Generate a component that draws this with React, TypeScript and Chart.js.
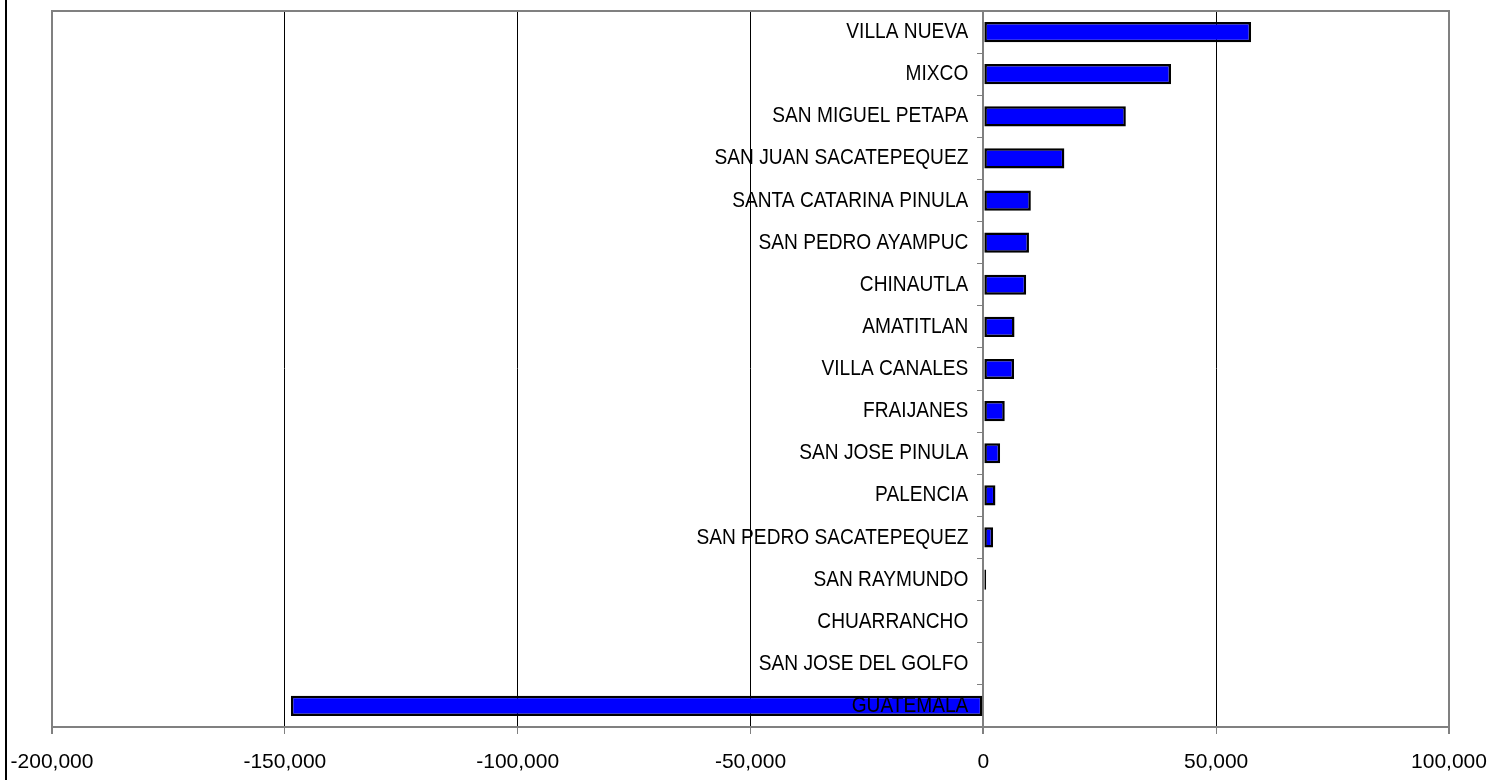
import React, { useEffect, useRef } from "react";
import { Chart, registerables } from "chart.js";

Chart.register(...registerables);

const municipios: string[] = [
  "VILLA NUEVA",
  "MIXCO",
  "SAN MIGUEL PETAPA",
  "SAN JUAN SACATEPEQUEZ",
  "SANTA CATARINA PINULA",
  "SAN PEDRO AYAMPUC",
  "CHINAUTLA",
  "AMATITLAN",
  "VILLA CANALES",
  "FRAIJANES",
  "SAN JOSE PINULA",
  "PALENCIA",
  "SAN PEDRO SACATEPEQUEZ",
  "SAN RAYMUNDO",
  "CHUARRANCHO",
  "SAN JOSE DEL GOLFO",
  "GUATEMALA",
];

const valores: number[] = [
  57500, 40300, 30600, 17400, 10200, 9800, 9200, 6700, 6600, 4600, 3600, 2600,
  2100, 600, 0, 0, -148700,
];

const xMin = -200000;
const xMax = 100000;
const xStep = 50000;

const GRAY = "#808080";

const categoryLabels = {
  id: "categoryLabels",
  afterDatasetsDraw(chart: any) {
    const ctx = chart.ctx;
    const xs = chart.scales.x;
    const ys = chart.scales.y;
    const x0 = xs.getPixelForValue(0) - 15;
    ctx.save();
    ctx.fillStyle = "#000";
    ctx.font = '22px "Liberation Sans", Arial, sans-serif';
    ctx.textAlign = "right";
    ctx.textBaseline = "middle";
    municipios.forEach((name, i) => {
      const y = ys.getPixelForValue(i);
      ctx.save();
      ctx.translate(x0, y);
      ctx.scale(0.87, 1);
      ctx.fillText(name, 0, 0);
      ctx.restore();
    });
    ctx.restore();
  },
};

const frame = {
  id: "frame",
  beforeDraw(chart: any) {
    const ctx = chart.ctx;
    ctx.save();
    ctx.fillStyle = "#000";
    ctx.fillRect(5, 0, 2, chart.height);
    ctx.restore();
  },
  afterDraw(chart: any) {
    const ctx = chart.ctx;
    const a = chart.chartArea;
    ctx.save();
    ctx.strokeStyle = GRAY;
    ctx.lineWidth = 2;
    ctx.beginPath();
    ctx.moveTo(a.left - 1, a.top);
    ctx.lineTo(a.right + 1, a.top);
    ctx.stroke();
    ctx.restore();
  },
};

export default function App() {
  const ref = useRef<HTMLCanvasElement | null>(null);

  useEffect(() => {
    if (!ref.current) return;
    const chart = new Chart(ref.current, {
      type: "bar",
      data: {
        labels: municipios,
        datasets: [
          {
            data: valores,
            backgroundColor: "#0000FF",
            borderColor: "#000000",
            borderWidth: 2.5,
            borderSkipped: false,
            categoryPercentage: 1,
            barPercentage: 0.48,
          },
        ],
      },
      options: {
        indexAxis: "y",
        animation: false,
        responsive: false,
        devicePixelRatio: 1,
        layout: { padding: { left: 52, right: 41, top: 11, bottom: 7 } },
        plugins: {
          legend: { display: false },
          tooltip: { enabled: false },
          title: { display: false },
        },
        scales: {
          x: {
            type: "linear",
            min: xMin,
            max: xMax,
            position: "bottom",
            afterFit: (scale: any) => {
              scale.height = 46;
              scale.paddingLeft = 0;
              scale.paddingRight = 0;
            },
            ticks: {
              stepSize: xStep,
              padding: 16,
              color: "#000",
              font: { family: '"Liberation Sans", Arial, sans-serif', size: 21 },
              callback: (v: any) => Number(v).toLocaleString("en-US"),
              maxRotation: 0,
            },
            grid: {
              drawTicks: true,
              tickLength: 7,
              tickColor: GRAY,
              color: (c: any) => {
                const v = c.tick ? c.tick.value : null;
                if (v === 0 || v === xMin || v === xMax) return GRAY;
                return "#000";
              },
              lineWidth: (c: any) => {
                const v = c.tick ? c.tick.value : null;
                if (v === 0 || v === xMin || v === xMax) return 2;
                return 1;
              },
            },
            border: { display: true, color: GRAY, width: 2 },
          },
          y: {
            type: "category",
            position: { x: 0 } as any,
            offset: true,
            ticks: { display: false },
            grid: {
              display: true,
              offset: true,
              drawOnChartArea: false,
              drawTicks: true,
              tickLength: 5,
              color: GRAY,
              lineWidth: 1,
            },
            border: { display: true, color: GRAY, width: 2 },
          },
        },
      },
      plugins: [frame, categoryLabels],
    });
    return () => chart.destroy();
  }, []);

  return (
    <div style={{ position: "absolute", left: 0, top: 0, width: 1490, height: 780, background: "#fff" }}>
      <canvas ref={ref} width={1490} height={780} style={{ display: "block" }} />
    </div>
  );
}
